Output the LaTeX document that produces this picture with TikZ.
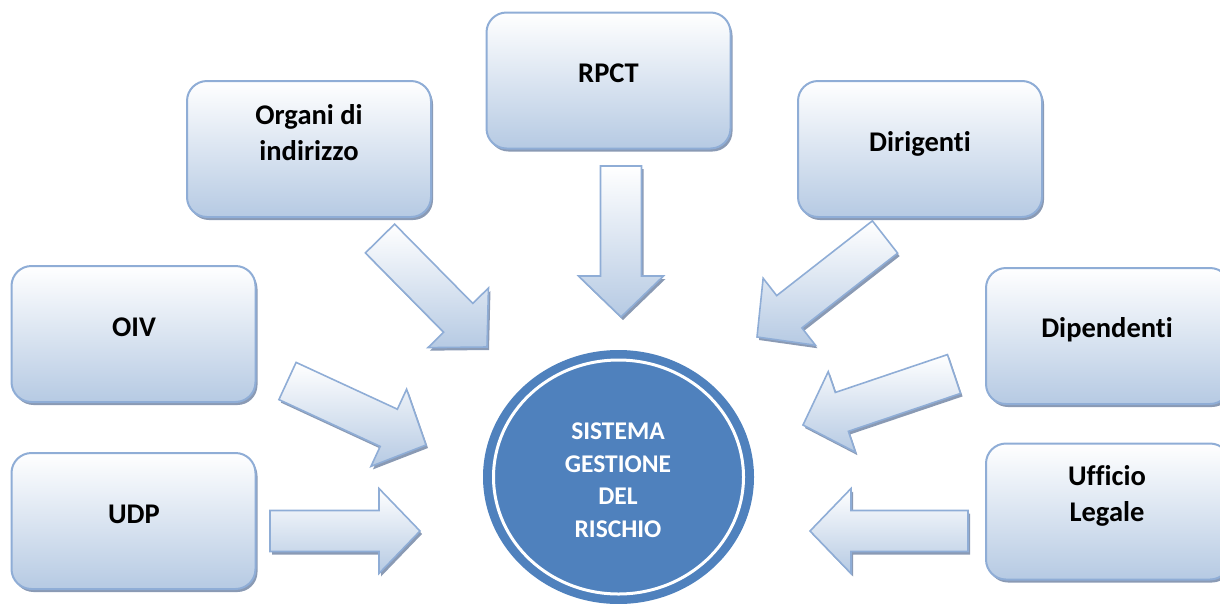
\documentclass[tikz,border=0pt]{standalone}
\usepackage{fontspec}
\setmainfont{Carlito}[Ligatures=NoCommon]
\usetikzlibrary{calc,shapes.geometric,shadows}
\definecolor{boxbot}{RGB}{182,202,227}
\definecolor{edgeblue}{RGB}{143,173,214}
\definecolor{shadowgray}{RGB}{138,154,180}
\definecolor{circblue}{RGB}{79,129,189}
\tikzset{
  boxnode/.style={rectangle, rounded corners=20pt, draw=edgeblue, line width=2pt,
    top color=white, bottom color=boxbot, minimum width=244pt, minimum height=136pt,
    inner sep=0pt,
    drop shadow={shadow xshift=2pt, shadow yshift=-3pt, opacity=1, fill=shadowgray}},
  boxtext/.style={font=\fontsize{28.5}{36}\selectfont\bfseries, align=center, inner sep=0pt, text=black},
  systext/.style={font=\fontsize{25.5}{32.5}\selectfont\bfseries, align=center, inner sep=0pt, text=white},
  arrowbody/.style={draw=edgeblue, line width=1.6pt, line join=miter, top color=white, bottom color=boxbot},
  arrowshadow/.style={fill=shadowgray, transform canvas={shift={(2pt,-3pt)}}}
}
\newcommand\blockarrow[3]{%
  \coordinate (#1-t) at #2;
  \coordinate (#1-p) at #3;
  \coordinate (#1-h) at ($(#1-p)!41pt!(#1-t)$);
  \coordinate (#1-1) at ($(#1-t)!20.5pt!90:(#1-p)$);
  \coordinate (#1-2) at ($(#1-h)!20.5pt!90:(#1-p)$);
  \coordinate (#1-3) at ($(#1-h)!42.5pt!90:(#1-p)$);
  \coordinate (#1-5) at ($(#1-h)!42.5pt!-90:(#1-p)$);
  \coordinate (#1-6) at ($(#1-h)!20.5pt!-90:(#1-p)$);
  \coordinate (#1-7) at ($(#1-t)!20.5pt!-90:(#1-p)$);
  \fill[arrowshadow] (#1-1) -- (#1-2) -- (#1-3) -- (#1-p) -- (#1-5) -- (#1-6) -- (#1-7) -- cycle;
  \path[arrowbody] (#1-1) -- (#1-2) -- (#1-3) -- (#1-p) -- (#1-5) -- (#1-6) -- (#1-7) -- cycle;
}
\begin{document}
\begin{tikzpicture}[x=1pt,y=-1pt]
\useasboundingbox (0,0) rectangle (1220,603);

% boxes
\node[boxnode] (organi) at (309,149) {};
\node[boxnode] (rpct) at (608.5,80.5) {};
\node[boxnode] (dirig) at (920,149) {};
\node[boxnode] (oiv) at (133.5,334) {};
\node[boxnode] (udp) at (133.5,521) {};
\node[boxnode] (dipend) at (1108,336) {};
\node[boxnode] (uff) at (1108,511.5) {};

% texts
\node[boxtext] (t-organi) at (309,133) {Organi di\\indirizzo};
\node[boxtext, anchor=base] (t-rpct) at (608.5,82) {RPCT};
\node[boxtext, anchor=base] (t-dirig) at (920,151) {Dirigenti};
\node[boxtext, anchor=base] (t-oiv) at (134,336) {OIV};
\node[boxtext, anchor=base] (t-udp) at (134,523) {UDP};
\node[boxtext, anchor=base] (t-dipend) at (1107,337) {Dipendenti};
\node[boxtext] (t-uff) at (1107,496) {Ufficio\\Legale};

% block arrows
\blockarrow{aorg}{(380,238.5)}{(487,347)}
\blockarrow{arpct}{(621,166)}{(621,317)}
\blockarrow{adir}{(885,237)}{(757,337)}
\blockarrow{adip}{(954,374)}{(803,425)}
\blockarrow{auff}{(968,531)}{(810,531)}
\blockarrow{audp}{(270,531)}{(420,531)}
\blockarrow{aoiv}{(287.5,381)}{(426,445)}

% central ellipse
\node[ellipse, fill=circblue, minimum width=271pt, minimum height=254pt, inner sep=0pt] (sys) at (618.5,477) {};
\draw[white, line width=3pt] (sys.center) ellipse [x radius=125pt, y radius=117pt];
\node[systext] (t-sys) at (618,480) {SISTEMA\\GESTIONE\\DEL\\RISCHIO};
\end{tikzpicture}
\end{document}
